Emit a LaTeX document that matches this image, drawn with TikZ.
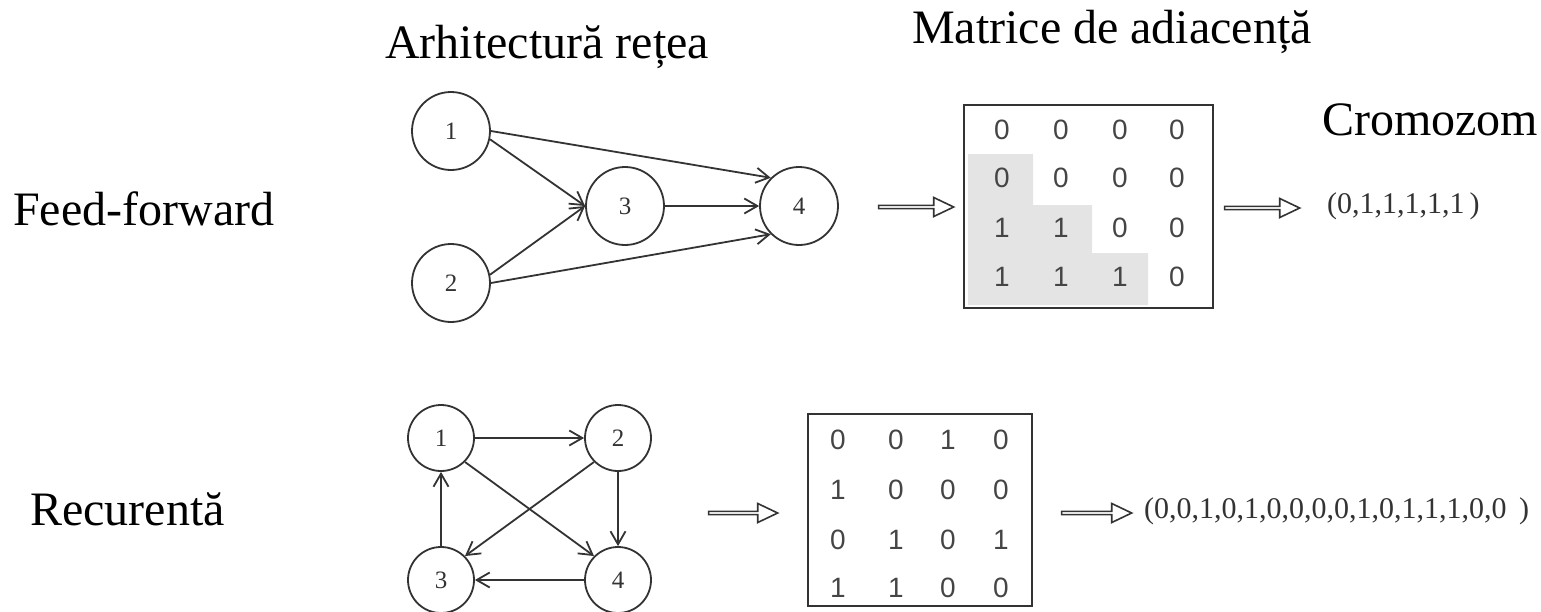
\documentclass[tikz,border=0pt]{standalone}
\usepackage{fontspec}
\setmainfont{Liberation Serif}
\newfontfamily\cellfont{Liberation Sans}
\usetikzlibrary{arrows.meta,shapes.arrows}

\definecolor{linegray}{HTML}{333333}
\definecolor{cellgray}{HTML}{454545}
\definecolor{shadegray}{HTML}{E4E4E4}

\begin{document}
\begin{tikzpicture}[x=1pt,y=-1pt,
  nd/.style={draw=linegray,circle,line width=1.8pt,minimum size=78pt,inner sep=0pt,font=\fontsize{25}{25}\selectfont,text=linegray},
  ndsmall/.style={nd,minimum size=66pt},
  edge/.style={draw=linegray,line width=1.8pt,-{Straight Barb[length=13pt,width=15pt,line width=1.8pt]}},
  cell/.style={inner sep=0pt,font=\cellfont\fontsize{28}{28}\selectfont,text=cellgray},
  title/.style={inner sep=0pt,anchor=base west,font=\fontsize{48}{48}\selectfont},
  chromo/.style={inner sep=0pt,anchor=base west,font=\fontsize{30}{30}\selectfont,text=linegray},
  bigarrow/.style={single arrow,draw=linegray,line width=1.6pt,inner sep=0pt,minimum width=19pt,single arrow head extend=4pt,single arrow tip angle=51},
  box/.style={draw=linegray,line width=1.8pt,inner sep=0pt}]

\useasboundingbox (0,0) rectangle (1541,611);

% titles
\node[title] (tarch) at (385,58) {Arhitectură rețea};
\node[title,anchor=base east] (tmat) at (1312,43) {Matrice de adiacență};
\node[title] (tcrom) at (1322,135) {Cromozom};
\node[title] (tff) at (13,225) {Feed-forward};
\node[title] (trec) at (30,525) {Recurentă};

% feed-forward network
\node[nd] (f1) at (451,131) {1};
\node[nd] (f2) at (451,283) {2};
\node[nd] (f3) at (625,206) {3};
\node[nd] (f4) at (799,206) {4};

\draw[edge] (f1.east) -- (f4.135);
\draw[edge] (f1.-12) -- (f3.west);
\draw[edge] (f2.12) -- (f3.west);
\draw[edge] (f2.east) -- (f4.225);
\draw[edge] (f3.east) -- (f4.west);

\node[bigarrow,minimum height=75pt] (ar1) at (914.5,207) {};

% lower triangle
\fill[shadegray] (968,154) -- (1033,154) -- (1033,205) -- (1092,205) -- (1092,253) -- (1148,253) -- (1148,305) -- (968,305) -- cycle;
\node[box,minimum width=249pt,minimum height=203pt] (ma) at (1088.5,206.5) {};

\node[cell] (a11) at (1002,130) {0}; \node[cell] (a12) at (1061,130) {0}; \node[cell] (a13) at (1120,130) {0}; \node[cell] (a14) at (1177,130) {0};
\node[cell] (a21) at (1002,178) {0}; \node[cell] (a22) at (1061,178) {0}; \node[cell] (a23) at (1120,178) {0}; \node[cell] (a24) at (1177,178) {0};
\node[cell] (a31) at (1002,228) {1}; \node[cell] (a32) at (1061,228) {1}; \node[cell] (a33) at (1120,228) {0}; \node[cell] (a34) at (1177,228) {0};
\node[cell] (a41) at (1002,277) {1}; \node[cell] (a42) at (1061,277) {1}; \node[cell] (a43) at (1120,277) {1}; \node[cell] (a44) at (1177,277) {0};

\node[bigarrow,minimum height=75pt] (ar2) at (1260.5,208) {};
\node[chromo] (cff) at (1327,213) {(0,1,1,1,1,1\,)};

% recurrent network
\node[ndsmall] (r1) at (441,438) {1};
\node[ndsmall] (r2) at (618,438) {2};
\node[ndsmall] (r3) at (441,580) {3};
\node[ndsmall] (r4) at (618,580) {4};

\draw[edge] (r1.east) -- (r2.west);
\draw[edge] (r1.-45) -- (r4.135);
\draw[edge] (r2.-135) -- (r3.45);
\draw[edge] (r2.south) -- (r4.north);
\draw[edge] (r4.west) -- (r3.east);
\draw[edge] (r3.north) -- (r1.south);

\node[bigarrow,minimum height=69pt] (ar3) at (741.5,513) {};

\node[box,minimum width=224pt,minimum height=192pt] (mb) at (920,510) {};

\node[cell] (b11) at (838,440) {0}; \node[cell] (b12) at (896,440) {0}; \node[cell] (b13) at (948,440) {1}; \node[cell] (b14) at (1001,440) {0};
\node[cell] (b21) at (838,490) {1}; \node[cell] (b22) at (896,490) {0}; \node[cell] (b23) at (948,490) {0}; \node[cell] (b24) at (1001,490) {0};
\node[cell] (b31) at (838,540) {0}; \node[cell] (b32) at (896,540) {1}; \node[cell] (b33) at (948,540) {0}; \node[cell] (b34) at (1001,540) {1};
\node[cell] (b41) at (838,588) {1}; \node[cell] (b42) at (896,588) {1}; \node[cell] (b43) at (948,588) {0}; \node[cell] (b44) at (1001,588) {0};

\node[bigarrow,minimum height=70pt] (ar4) at (1095,513) {};
\node[chromo] (crec) at (1144,518) {(0,0,1,0,1,0,0,0,0,1,0,1,1,1,0,0 \,)};

\end{tikzpicture}
\end{document}
